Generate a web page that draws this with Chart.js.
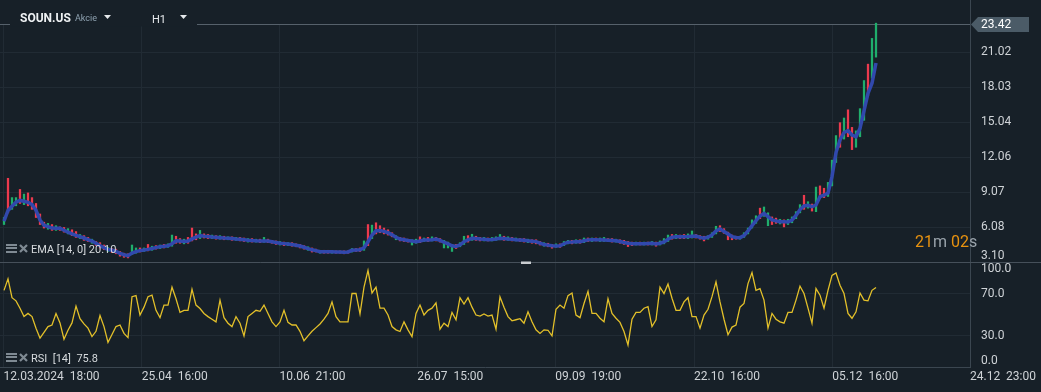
<!DOCTYPE html>
<html>
<head>
<meta charset="utf-8">
<script src="https://cdn.jsdelivr.net/npm/chart.js@4.4.1/dist/chart.umd.min.js"></script>
<style>
  html, body { margin: 0; padding: 0; background: #172028; }
  #wrap { width: 1041px; height: 392px; }
</style>
</head>
<body>
<div id="wrap"><canvas id="chart" width="1041" height="392"></canvas></div>
<script>
// hourly candles, one per slot (index 0 = 12.03.2024 18:00)
const lows = [
  6.3, 7.3, 7.6, 7.9, 8.1, 8.0, 7.9, 7.6, 6.9, 6.3,
  6.0, 5.9, 5.8, 5.8, 5.8, 5.65, 5.5, 5.35, 5.2, 5.1,
  4.95, 4.85, 4.7, 4.5, 4.3, 4.15, 4.0, 3.9, 3.8, 3.6,
  3.5, 3.45, 3.75, 3.85, 3.95, 4.0, 4.05, 4.1, 4.2, 4.25,
  4.3, 4.35, 4.45, 4.7, 4.7, 4.65, 4.7, 4.9, 5.0, 5.1,
  5.15, 5.1, 5.1, 5.05, 5.05, 5.0, 5.0, 4.95, 4.95, 4.9,
  4.85, 4.8, 4.8, 4.8, 4.75, 4.78, 4.75, 4.7, 4.6, 4.55,
  4.5, 4.5, 4.45, 4.4, 4.3, 4.2, 4.1, 3.95, 3.95, 3.85,
  3.85, 3.85, 3.85, 3.85, 3.85, 3.8, 3.85, 3.95, 4.0, 4.0,
  4.1, 4.5, 5.1, 5.5, 5.6, 5.5, 5.4, 5.25, 5.0, 4.9,
  4.85, 4.8, 4.55, 4.7, 4.75, 4.85, 4.85, 4.9, 4.9, 4.8,
  4.3, 4.3, 4.0, 4.25, 4.4, 4.6, 4.8, 4.95, 4.95, 4.9,
  4.9, 4.9, 4.9, 4.95, 5.0, 4.95, 4.95, 4.9, 4.9, 4.85,
  4.8, 4.75, 4.7, 4.65, 4.55, 4.45, 4.4, 4.28, 4.35, 4.35,
  4.5, 4.65, 4.65, 4.7, 4.7, 4.75, 4.85, 4.85, 4.9, 4.85,
  4.85, 4.85, 4.8, 4.8, 4.7, 4.6, 4.42, 4.5, 4.55, 4.55,
  4.55, 4.55, 4.55, 4.45, 4.55, 4.65, 4.85, 5.05, 5.1, 5.1,
  5.1, 5.1, 5.15, 5.15, 5.05, 4.9, 5.05, 5.2, 5.5, 5.7,
  5.55, 5.0, 5.0, 5.05, 5.05, 5.2, 5.5, 6.0, 6.4, 6.8,
  7.0, 6.2, 6.3, 6.4, 6.35, 6.1, 6.3, 6.45, 6.8, 7.3,
  7.6, 7.7, 7.45, 7.4, 8.6, 8.6, 8.7, 9.6, 11.6, 12.9,
  13.6, 13.8, 12.7, 12.9, 13.8, 15.2, 17.3, 18.8, 20.6
];
const highs = [
  6.9, 10.25, 8.6, 8.6, 9.3, 8.9, 9.0, 8.6, 8.1, 7.2,
  6.5, 6.4, 6.3, 6.2, 6.1, 6.05, 5.95, 5.85, 5.7, 5.45,
  5.35, 5.2, 5.05, 4.85, 4.75, 4.55, 4.35, 4.25, 4.2, 4.0,
  3.85, 3.8, 4.55, 4.3, 4.3, 4.3, 4.6, 4.45, 4.5, 4.55,
  4.6, 4.65, 5.4, 5.3, 5.1, 5.05, 5.2, 6.0, 5.5, 5.8,
  5.5, 5.45, 5.4, 5.35, 5.35, 5.3, 5.25, 5.25, 5.2, 5.2,
  5.15, 5.1, 5.1, 5.05, 5.05, 5.2, 5.05, 4.95, 4.9, 4.85,
  4.8, 4.75, 4.75, 4.65, 4.6, 4.5, 4.4, 4.3, 4.2, 4.1,
  4.1, 4.1, 4.05, 4.05, 4.05, 4.05, 4.05, 4.25, 4.25, 4.3,
  4.9, 6.3, 6.25, 6.45, 6.2, 6.0, 5.85, 5.6, 5.35, 5.2,
  5.15, 5.05, 5.0, 5.05, 5.25, 5.15, 5.2, 5.25, 5.2, 5.1,
  4.95, 4.8, 4.6, 4.6, 4.75, 5.3, 5.35, 5.47, 5.3, 5.2,
  5.2, 5.15, 5.2, 5.25, 5.45, 5.3, 5.25, 5.2, 5.15, 5.1,
  5.1, 5.05, 5.0, 5.0, 4.85, 4.75, 4.7, 4.6, 4.65, 4.65,
  4.85, 4.95, 4.95, 5.0, 5.0, 5.15, 5.15, 5.15, 5.15, 5.15,
  5.2, 5.1, 5.1, 5.05, 5.0, 4.95, 4.85, 4.8, 4.8, 4.8,
  4.8, 4.8, 4.85, 4.8, 4.9, 5.1, 5.4, 5.45, 5.45, 5.4,
  5.45, 5.5, 5.75, 5.45, 5.35, 5.3, 5.35, 5.6, 6.15, 6.2,
  5.95, 5.65, 5.4, 5.3, 5.3, 5.6, 6.0, 6.7, 7.05, 7.7,
  7.8, 7.3, 6.95, 6.85, 6.75, 6.7, 6.75, 6.95, 7.4, 8.0,
  8.8, 8.25, 8.05, 9.5, 9.6, 9.4, 9.9, 11.8, 13.9, 15.0,
  15.4, 16.1, 14.6, 14.3, 16.2, 18.6, 20.0, 22.2, 23.5
];
// g = up candle, r = down candle
const moves =
  "grggrgrrrr" + "rgrgrrgrrg" + "rrgrrrgrrr" + "rrggrgrgrg" + "rggrrgrrrg" +
  "rrgrgrgrgr" + "rgrgrgrrrg" + "rgrrrrgrrg" + "rrgrrrrgrr" + "grgrrrrrgr" +
  "rrggrgrgrr" + "gggrggrgrr" + "grgggrgrgr" + "rgrrrgrrgr" + "ggrgrgrgrg" +
  "grrgrrrrgr" + "grgrgggrgr" + "rggrrrgggr" + "rrrrgggggr" + "ggrrgrgggg" +
  "rgrgrrgggr" + "grrgggrgg";

const ema = [
  6.60, 7.50, 7.86, 8.21, 8.36, 8.29, 8.20, 8.01, 7.51, 6.69,
  6.24, 6.12, 6.00, 5.98, 5.98, 5.81, 5.65, 5.51, 5.38, 5.26,
  5.15, 5.02, 4.89, 4.70, 4.49, 4.33, 4.18, 4.10, 4.00, 3.84,
  3.72, 3.64, 3.87, 3.99, 4.07, 4.13, 4.18, 4.25, 4.33, 4.41,
  4.44, 4.48, 4.66, 4.91, 4.89, 4.85, 4.89, 5.07, 5.22, 5.35,
  5.31, 5.28, 5.24, 5.21, 5.18, 5.15, 5.13, 5.11, 5.07, 5.04,
  5.01, 4.96, 4.93, 4.91, 4.90, 4.90, 4.89, 4.83, 4.77, 4.71,
  4.67, 4.63, 4.59, 4.53, 4.47, 4.36, 4.24, 4.14, 4.07, 3.98,
  3.98, 3.98, 3.98, 3.96, 3.95, 3.94, 3.96, 4.10, 4.13, 4.14,
  4.32, 4.83, 5.41, 5.77, 5.79, 5.72, 5.60, 5.42, 5.21, 5.06,
  5.00, 4.93, 4.89, 4.84, 4.90, 4.98, 4.98, 5.01, 5.06, 4.95,
  4.79, 4.64, 4.49, 4.43, 4.55, 4.83, 5.00, 5.12, 5.10, 5.06,
  5.04, 5.01, 5.03, 5.07, 5.12, 5.10, 5.07, 5.05, 5.01, 4.98,
  4.95, 4.91, 4.88, 4.84, 4.72, 4.59, 4.54, 4.48, 4.47, 4.49,
  4.66, 4.79, 4.80, 4.82, 4.83, 4.91, 4.99, 5.01, 5.01, 4.99,
  4.98, 4.96, 4.94, 4.92, 4.85, 4.77, 4.70, 4.66, 4.66, 4.66,
  4.66, 4.68, 4.70, 4.64, 4.70, 4.81, 5.04, 5.22, 5.26, 5.26,
  5.26, 5.27, 5.29, 5.31, 5.20, 5.13, 5.22, 5.41, 5.75, 5.92,
  5.71, 5.49, 5.27, 5.19, 5.18, 5.36, 5.75, 6.21, 6.64, 7.03,
  7.25, 6.97, 6.69, 6.61, 6.54, 6.53, 6.52, 6.68, 7.08, 7.58,
  7.89, 7.94, 7.82, 7.97, 8.68, 8.80, 8.99, 10.39, 12.45, 13.52,
  14.16, 14.32, 13.95, 13.80, 14.52, 16.00, 17.51, 18.37, 20.10
];

const rsi = [
  73, 84, 66, 63, 56, 48, 51, 48, 37, 27.5,
  33, 38.5, 40, 51, 42, 26.5, 35, 42, 58, 46,
  41, 37, 29, 34, 49, 38.5, 23.5, 31, 38.5, 40,
  32, 28, 67, 68, 49.5, 57, 67, 68.4, 54, 47,
  59, 59, 76, 65, 52, 54, 54, 74, 59, 55.7,
  51, 48, 45.5, 43, 63.7, 47, 41.7, 38.5, 48, 41.7,
  29.6, 48, 51, 54, 53, 59, 51, 43, 38.5, 43,
  54, 42.5, 40, 40, 34, 25, 29.6, 34, 37.5, 41,
  45.5, 51, 62, 48, 43, 43, 43, 70, 70, 50.5,
  76, 92, 70.5, 76, 56, 56, 49.5, 38.5, 35.4, 33.8,
  43, 35.4, 29, 51, 59, 49.5, 54, 56, 61, 36,
  41.7, 38.5, 52, 45, 66, 60, 66, 57, 49.5, 48.5,
  50.5, 48.5, 49.5, 36, 66.8, 57, 48, 44, 45, 46,
  41.7, 52.6, 43, 35.4, 32, 35.4, 35, 29.6, 55, 59,
  56, 68, 70.5, 49.5, 47, 60.5, 72, 51, 51, 46.4,
  43, 65, 51, 46.4, 42.5, 33.8, 21, 45.5, 52, 52,
  56, 57.4, 38.5, 45, 76, 70, 79, 65.5, 54, 54,
  62, 66, 48, 48, 37, 49.5, 55, 67, 81, 62,
  45.5, 30.7, 38, 40, 57, 60.5, 79.4, 90, 73, 74.7,
  63.7, 37, 51, 45.5, 43, 41.7, 52, 52, 63.7, 77,
  70, 56, 41.7, 74.7, 68.4, 56, 73, 87.3, 89.5, 77.8,
  70, 51, 46.4, 52.6, 70.5, 63.7, 63, 73, 75.8
];

const priceTicks = [3.10, 6.08, 9.07, 12.06, 15.04, 18.03, 21.02];
const rsiTicks = [0, 30, 70, 100];
const timeTickPos = [-0.125, 34.425, 68.875, 103.325, 137.825, 172.5, 207.075, 241.5];
const timeTickLabels = ["12.03.2024  18:00", "25.04  16:00", "10.06  21:00", "26.07  15:00",
  "09.09  19:00", "22.10  16:00", "05.12  16:00", "24.12  23:00"];
const lastPrice = 23.42;
const emaLegend = "EMA [14, 0] 20.10";
const rsiLegend = "RSI  [14]  75.8";

const BG = '#172028';
const GRID = '#212b34';
const AXIS = '#3b4650';
const TEXT = '#cfd3d7';
const UP = '#1fae6c';
const DOWN = '#ec3a4e';
const FONT = 'Roboto, "Liberation Sans", sans-serif';

const candleData = lows.map((lo, i) => ({ x: i, y: [lo, highs[i]] }));
const candleColors = moves.split('').map(m => m === 'g' ? UP : DOWN);
const emaData = ema.map((v, i) => ({ x: i, y: v }));
const rsiData = rsi.map((v, i) => ({ x: i, y: v }));

function drawIcons(ctx, y) {
  ctx.fillStyle = '#7f8a93';
  ctx.fillRect(6, y - 5, 11, 2);
  ctx.fillRect(6, y - 2, 11, 2);
  ctx.fillRect(6, y + 2, 11, 2);
  ctx.strokeStyle = '#7f8a93';
  ctx.lineWidth = 2.2;
  ctx.beginPath();
  ctx.moveTo(20, y - 4); ctx.lineTo(27, y + 3);
  ctx.moveTo(27, y - 4); ctx.lineTo(20, y + 3);
  ctx.stroke();
}

function triangle(ctx, x, y) {
  ctx.beginPath();
  ctx.moveTo(x, y); ctx.lineTo(x + 7, y); ctx.lineTo(x + 3.5, y + 4);
  ctx.closePath();
  ctx.fill();
}

const overlay = {
  id: 'overlay',
  beforeDatasetsDraw(chart) {
    const ctx = chart.ctx;
    const area = chart.chartArea;
    const ly = Math.round(chart.scales.yPrice.getPixelForValue(lastPrice)) + 0.5;
    ctx.save();
    ctx.fillStyle = BG;
    ctx.fillRect(0, 0, area.right - 1, ly);
    ctx.strokeStyle = '#56616b';
    ctx.lineWidth = 1;
    ctx.beginPath();
    ctx.moveTo(0, ly); ctx.lineTo(area.right, ly);
    ctx.stroke();
    ctx.fillRect(10, 0, 187, ly + 2);
    ctx.restore();
  },
  afterDraw(chart) {
    const ctx = chart.ctx;
    const yp = chart.scales.yPrice;
    const yr = chart.scales.yRsi;
    ctx.save();

    // pane separator + drag handle
    const sep = Math.round(yp.bottom) + 0.5;
    ctx.strokeStyle = '#46505a';
    ctx.lineWidth = 1;
    ctx.beginPath(); ctx.moveTo(0, sep); ctx.lineTo(1041, sep); ctx.stroke();
    ctx.fillStyle = '#c9cdd1';
    ctx.fillRect(521, sep - 1, 10, 2.5);

    // y labels
    ctx.font = '12px ' + FONT;
    ctx.fillStyle = TEXT;
    ctx.textAlign = 'left';
    ctx.textBaseline = 'middle';
    [[yp, 2], [yr, 1]].forEach(([sc, dec]) => {
      sc.ticks.forEach(t => {
        let y = sc.getPixelForValue(t.value);
        y = Math.min(Math.max(y, sc.top + 7), sc.bottom - 6);
        ctx.fillText(t.value.toFixed(dec), sc.left + 11, y);
      });
    });

    // last price marker
    const ly = Math.round(yp.getPixelForValue(lastPrice)) + 0.5;
    ctx.fillStyle = '#4b5b67';
    ctx.beginPath();
    ctx.moveTo(971, ly);
    ctx.lineTo(978, ly - 7.5);
    ctx.lineTo(1029, ly - 7.5);
    ctx.lineTo(1029, ly + 7.5);
    ctx.lineTo(978, ly + 7.5);
    ctx.closePath();
    ctx.fill();
    ctx.fillStyle = '#ffffff';
    ctx.fillText(lastPrice.toFixed(2), 981, ly + 0.5);

    // header
    ctx.fillStyle = '#eef1f3';
    ctx.font = 'bold 12px ' + FONT;
    ctx.fillText('SOUN.US', 20, 18.5);
    ctx.fillStyle = '#8ea1b0';
    ctx.font = '9px ' + FONT;
    ctx.fillText('Akcie', 75, 19);
    ctx.fillStyle = '#e6e9ec';
    triangle(ctx, 104, 15);
    ctx.font = '11px ' + FONT;
    ctx.fillText('H1', 152, 20.5);
    triangle(ctx, 180, 15);

    // indicator legends
    drawIcons(ctx, 249);
    drawIcons(ctx, 358);
    ctx.fillStyle = '#d6dadd';
    ctx.font = '11px ' + FONT;
    ctx.fillText(emaLegend, 31, 250.5);
    ctx.fillText(rsiLegend, 31, 359);

    // candle countdown
    ctx.font = '16px ' + FONT;
    ctx.textBaseline = 'alphabetic';
    let x = 915;
    [['21', '#e8920f'], ['m', '#9aa3ab'], [' 02', '#e8920f'], ['s', '#9aa3ab']].forEach(([s, c]) => {
      ctx.fillStyle = c;
      ctx.fillText(s, x, 247);
      x += ctx.measureText(s).width;
    });
    ctx.restore();
  }
};

new Chart(document.getElementById('chart'), {
  type: 'bar',
  data: {
    datasets: [
      {
        type: 'line', data: emaData, yAxisID: 'yPrice', order: 0,
        borderColor: '#3148ad', borderWidth: 3.5, pointRadius: 0, tension: 0
      },
      {
        type: 'bar', data: candleData, yAxisID: 'yPrice', order: 1,
        backgroundColor: candleColors, borderWidth: 0, barThickness: 1.6
      },
      {
        type: 'line', data: rsiData, yAxisID: 'yRsi', order: 2,
        borderColor: '#e3c02a', borderWidth: 1.3, pointRadius: 0, tension: 0
      }
    ]
  },
  options: {
    responsive: false,
    animation: false,
    events: [],
    devicePixelRatio: 1,
    layout: { padding: 0 },
    plugins: { legend: { display: false }, tooltip: { enabled: false } },
    scales: {
      x: {
        type: 'linear', min: -1, max: 241.5, position: 'bottom', offset: false,
        afterBuildTicks: s => { s.ticks = timeTickPos.map(v => ({ value: v })); },
        afterFit: s => { s.height = 25; },
        grid: { color: GRID, drawTicks: false, offset: false },
        border: { color: AXIS },
        ticks: {
          align: 'start', maxRotation: 0, autoSkip: false, padding: 3,
          color: TEXT, font: { family: FONT, size: 12 },
          callback: (v, i) => timeTickLabels[i]
        }
      },
      yPrice: {
        type: 'linear', position: 'right', stack: 'panes', stackWeight: 262,
        min: 3.10, max: 25.48,
        afterBuildTicks: s => { s.ticks = priceTicks.map(v => ({ value: v })); },
        afterFit: s => { s.width = 71; },
        grid: {
          drawTicks: false,
          color: c => (c.tick && c.tick.value === priceTicks[0]) ? 'rgba(0,0,0,0)' : GRID
        },
        border: { color: AXIS },
        ticks: { display: false }
      },
      yRsi: {
        type: 'linear', position: 'right', stack: 'panes', stackWeight: 105,
        min: 0, max: 100,
        afterBuildTicks: s => { s.ticks = rsiTicks.map(v => ({ value: v })); },
        afterFit: s => { s.width = 71; },
        grid: {
          drawTicks: false,
          color: c => (c.tick && (c.tick.value === 30 || c.tick.value === 70)) ? GRID : 'rgba(0,0,0,0)'
        },
        border: { color: AXIS },
        ticks: { display: false }
      }
    }
  },
  plugins: [overlay]
});
</script>
</body>
</html>
